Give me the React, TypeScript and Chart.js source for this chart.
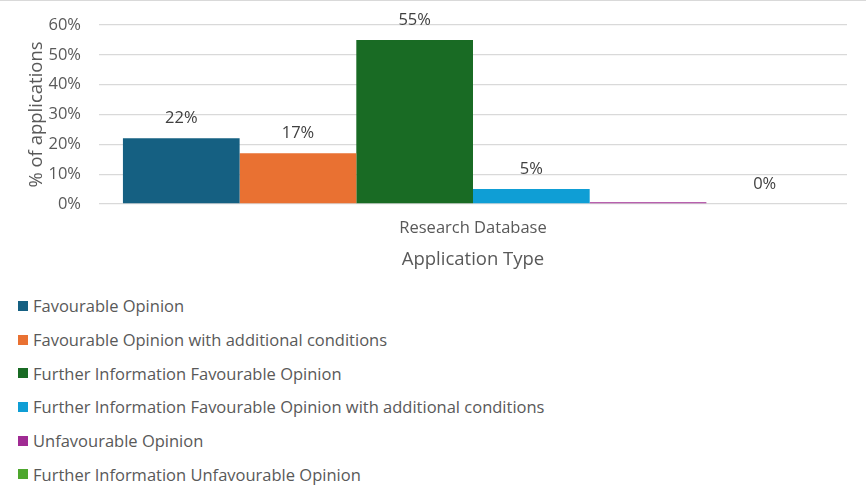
import React, { useEffect, useRef } from "react";
import { Chart, registerables } from "chart.js";

Chart.register(...registerables);

const categories = ["Research Database"];
const seriesNames = [
  "Favourable Opinion",
  "Favourable Opinion with additional conditions",
  "Further Information Favourable Opinion",
  "Further Information Favourable Opinion with additional conditions",
  "Unfavourable Opinion",
  "Further Information Unfavourable Opinion",
];
const seriesValues = [22, 17, 55, 5, 0.6, 0];
const seriesLabels = ["22%", "17%", "55%", "5%", "", "0%"];
const seriesColors = ["#156082", "#E97132", "#196B24", "#0F9ED5", "#A02B93", "#4EA72E"];
const yTicks = [0, 10, 20, 30, 40, 50, 60];

const FONT = "'Open Sans', 'Liberation Sans', sans-serif";
const TEXT = "#595959";

const valueLabels = {
  id: "valueLabels",
  afterDatasetsDraw(chart: any) {
    const ctx = chart.ctx;
    ctx.save();
    ctx.font = `16.5px ${FONT}`;
    ctx.fillStyle = "#404040";
    ctx.textAlign = "center";
    ctx.textBaseline = "middle";
    chart.data.datasets.forEach((ds: any, i: number) => {
      const meta = chart.getDatasetMeta(i);
      meta.data.forEach((bar: any) => {
        const txt = seriesLabels[i];
        if (!txt) return;
        ctx.fillText(txt, bar.x, bar.y - 20);
      });
    });
    ctx.restore();
  },
};

export default function App() {
  const ref = useRef<HTMLCanvasElement | null>(null);

  useEffect(() => {
    if (!ref.current) return;
    const chart = new Chart(ref.current, {
      type: "bar",
      data: {
        labels: categories,
        datasets: seriesNames.map((name, i) => ({
          label: name,
          data: [seriesValues[i]],
          backgroundColor: seriesColors[i],
          borderWidth: 0,
          barPercentage: 1,
          categoryPercentage: 0.936,
        })),
      },
      options: {
        animation: false,
        responsive: false,
        maintainAspectRatio: false,
        layout: { padding: { top: 25, right: 19, left: 0, bottom: 0 } },
        plugins: {
          legend: { display: false },
          tooltip: { enabled: false },
        },
        scales: {
          x: {
            grid: { display: false, drawTicks: false },
            border: { display: false },
            ticks: {
              color: TEXT,
              font: { family: FONT, size: 16.5 },
              padding: 14,
            },
            title: {
              display: true,
              text: "Application Type",
              color: TEXT,
              font: { family: FONT, size: 18.5 },
              padding: { top: 0, bottom: 0 },
            },
            afterFit: (scale: any) => {
              scale.height = 67;
            },
          },
          y: {
            min: 0,
            max: 60,
            afterBuildTicks: (scale: any) => {
              scale.ticks = yTicks.map((v) => ({ value: v }));
            },
            grid: { color: "#D9D9D9", lineWidth: 1.3, drawTicks: false },
            border: { display: false },
            ticks: {
              color: TEXT,
              font: { family: FONT, size: 16.5 },
              padding: 18,
              callback: (v: any) => `${v}%`,
            },
            title: {
              display: true,
              text: "% of applications",
              color: TEXT,
              font: { family: FONT, size: 18.5 },
              padding: { top: 26, bottom: 0 },
            },
            afterFit: (scale: any) => {
              scale.width = 99;
              scale.paddingTop = 0;
              scale.paddingBottom = 0;
            },
          },
        },
      },
      plugins: [valueLabels],
    });
    return () => chart.destroy();
  }, []);

  return (
    <div
      style={{
        position: "fixed",
        left: 0,
        top: 0,
        width: 866,
        height: 491,
        background: "#fff",
        fontFamily: FONT,
      }}
    >
      <canvas ref={ref} width={866} height={271} style={{ position: "absolute", left: 0, top: 0 }} />
      <div
        style={{ position: "absolute", left: 0, top: 0, width: 866, height: 1, background: "#D9D9D9" }}
      />
      <div style={{ position: "absolute", left: 18, top: 289 }}>
        {seriesNames.map((name, i) => (
          <div
            key={name}
            style={{
              display: "flex",
              alignItems: "center",
              height: 33.7,
              color: TEXT,
              fontSize: 16.5,
              whiteSpace: "nowrap",
            }}
          >
            <span
              style={{
                display: "inline-block",
                width: 10,
                height: 10,
                background: seriesColors[i],
                marginRight: 5,
              }}
            />
            {name}
          </div>
        ))}
      </div>
    </div>
  );
}
